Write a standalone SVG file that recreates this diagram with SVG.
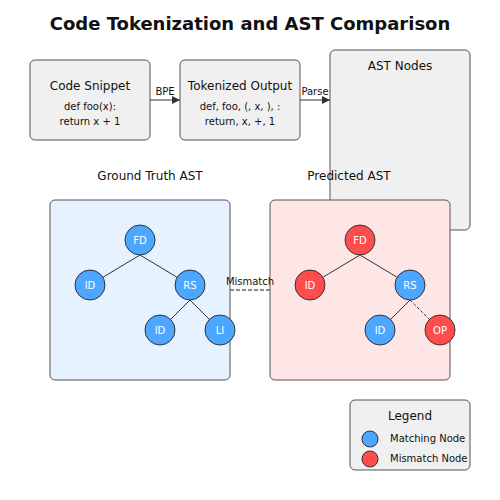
<svg xmlns="http://www.w3.org/2000/svg" width="500" height="500" viewBox="0 0 500 500">
<defs>
<style>
text{font-family:"DejaVu Sans",sans-serif;fill:#111;}
.box{fill:#f0f0f0;stroke:#555;stroke-width:1;}
.t12{font-size:12px;text-anchor:middle;}
.t10{font-size:10px;text-anchor:middle;}
.t9{font-size:10px;}
.blue{fill:#4da6ff;stroke:#333;stroke-width:1;}
.red{fill:#ff4d4d;stroke:#333;stroke-width:1;}
.nl{font-size:10px;text-anchor:middle;fill:#fff;}
.edge{stroke:#333;stroke-width:1;fill:none;}
</style>
<marker id="ah" viewBox="0 0 10 10" refX="10" refY="5" markerWidth="10" markerHeight="8" markerUnits="userSpaceOnUse" orient="auto"><path d="M0,0 L10,5 L0,10 z" fill="#333"/></marker>
</defs>
<rect width="500" height="500" fill="#fff"/>
<text x="250" y="30" style="font-size:18px;font-weight:bold;text-anchor:middle;">Code Tokenization and AST Comparison</text>

<g id="ast-nodes"><rect class="box" x="330" y="50" width="140" height="180" rx="5"/><text class="t12" x="400" y="70">AST Nodes</text></g>

<g id="code-snippet"><rect class="box" x="30" y="60" width="120" height="80" rx="5"/><text class="t12" x="90" y="90">Code Snippet</text><text class="t10" x="90" y="110">def foo(x):</text><text class="t10" x="90" y="125">return x + 1</text></g>

<g id="tokenized"><rect class="box" x="180" y="60" width="120" height="80" rx="5"/><text class="t12" x="240" y="90">Tokenized Output</text><text class="t10" x="240" y="110">def, foo, (, x, ), :</text><text class="t10" x="240" y="125">return, x, +, 1</text></g>

<g id="ground-truth"><rect x="50" y="200" width="180" height="180" rx="5" fill="#e6f2ff" stroke="#555"/><text class="t12" x="150" y="180">Ground Truth AST</text></g>
<g id="predicted"><rect x="270" y="200" width="180" height="180" rx="5" fill="#ffe6e6" stroke="#555"/><text class="t12" x="349" y="180">Predicted AST</text></g>

<g id="connectors">
<line x1="150" y1="100" x2="180" y2="100" class="edge" marker-end="url(#ah)"/>
<text class="t10" x="165" y="95">BPE</text>
<line x1="300" y1="100" x2="330" y2="100" class="edge" marker-end="url(#ah)"/>
<text class="t10" x="315" y="95">Parse</text>
<line x1="230" y1="290" x2="270" y2="290" stroke="#666" stroke-width="1.5" stroke-dasharray="4,2"/>
<text class="t10" x="250" y="285">Mismatch</text>
<line x1="140" y1="255" x2="90" y2="285" class="edge"/>
<line x1="140" y1="255" x2="190" y2="285" class="edge"/>
<line x1="190" y1="300" x2="160" y2="330" class="edge"/>
<line x1="190" y1="300" x2="220" y2="330" class="edge"/>
<line x1="360" y1="255" x2="310" y2="285" class="edge"/>
<line x1="360" y1="255" x2="410" y2="285" class="edge"/>
<line x1="410" y1="300" x2="380" y2="330" class="edge"/>
<line x1="410" y1="300" x2="440" y2="330" class="edge" stroke-dasharray="3,2"/>
</g>

<g id="gt-fd"><circle class="blue" cx="140" cy="240" r="15"/><text class="nl" x="140" y="244">FD</text></g>
<g id="gt-id1"><circle class="blue" cx="90" cy="285" r="15"/><text class="nl" x="90" y="289">ID</text></g>
<g id="gt-rs"><circle class="blue" cx="190" cy="285" r="15"/><text class="nl" x="190" y="289">RS</text></g>
<g id="gt-id2"><circle class="blue" cx="160" cy="330" r="15"/><text class="nl" x="160" y="334">ID</text></g>
<g id="gt-li"><circle class="blue" cx="220" cy="330" r="15"/><text class="nl" x="220" y="334">LI</text></g>

<g id="pr-fd"><circle class="red" cx="360" cy="240" r="15"/><text class="nl" x="360" y="244">FD</text></g>
<g id="pr-id1"><circle class="red" cx="310" cy="285" r="15"/><text class="nl" x="310" y="289">ID</text></g>
<g id="pr-rs"><circle class="blue" cx="410" cy="285" r="15"/><text class="nl" x="410" y="289">RS</text></g>
<g id="pr-id2"><circle class="blue" cx="380" cy="330" r="15"/><text class="nl" x="380" y="334">ID</text></g>
<g id="pr-op"><circle class="red" cx="440" cy="330" r="15"/><text class="nl" x="440" y="334">OP</text></g>

<g id="legend"><rect class="box" x="350" y="400" width="120" height="70" rx="5"/><text class="t12" x="410" y="420">Legend</text>
<circle class="blue" cx="370" cy="439" r="8"/><text class="t9" x="390" y="442">Matching Node</text>
<circle class="red" cx="370" cy="459" r="8"/><text class="t9" x="390" y="462">Mismatch Node</text></g>
</svg>
